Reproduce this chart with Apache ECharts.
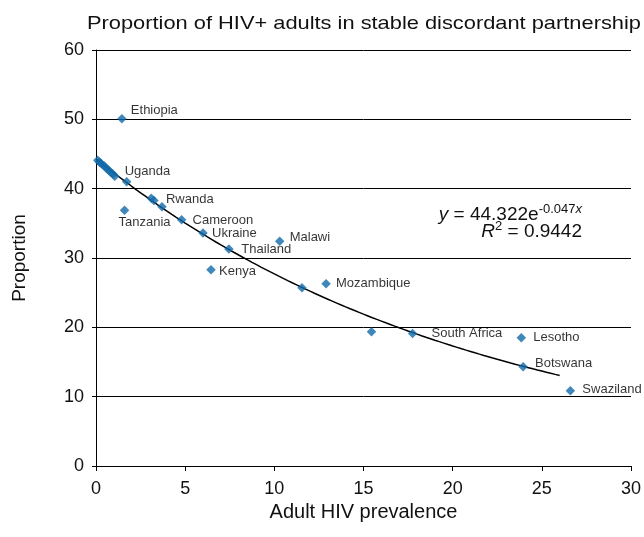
<!DOCTYPE html>
<html>
<head>
<meta charset="utf-8">
<script src="https://cdn.jsdelivr.net/npm/echarts@6/dist/echarts.min.js"></script>
<style>
html,body{margin:0;padding:0;background:#fff;}
#chart{width:644px;height:537px;}
</style>
</head>
<body>
<div id="chart"></div>
<script>
// Country names ('' = unlabeled point)
var countries = ['', '', '', '', '', '', '', '', '', 'Uganda', 'Ethiopia', 'Tanzania', '', 'Rwanda', '', 'Cameroon', 'Ukraine', 'Thailand', 'Malawi', 'Kenya', '', 'Mozambique', '', 'South Africa', 'Lesotho', 'Botswana', 'Swaziland'];
// Adult HIV prevalence (%)
var prevalence = [0.1, 0.2, 0.3, 0.45, 0.55, 0.7, 0.8, 0.95, 1.05, 1.72, 1.45, 1.6, 3.1, 3.25, 3.7, 4.8, 6.0, 7.45, 10.3, 6.45, 11.55, 12.9, 15.45, 17.75, 23.85, 23.95, 26.6];
// Proportion of HIV+ adults in stable discordant partnership (%)
var proportion = [44.1, 43.8, 43.6, 43.3, 43.0, 42.7, 42.4, 42.1, 41.8, 41.0, 50.1, 36.9, 38.6, 38.3, 37.4, 35.5, 33.6, 31.3, 32.4, 28.3, 25.7, 26.3, 19.35, 19.1, 18.5, 14.3, 10.85];
// Fitted exponential trend y = a * e^(b x), shown on the chart
var trendA = 44.322;
var trendB = -0.047;
var trendR2 = 0.9442;
var trendXMax = 26;
var xTicks = [0, 5, 10, 15, 20, 25, 30];
var yTicks = [0, 10, 20, 30, 40, 50, 60];
var titleText = 'Proportion of HIV+ adults in stable discordant partnership';

// label offsets (style only): [dx from point centre to text left, dy]
var labelOffsets = {
  'Uganda': [-2, -10], 'Ethiopia': [9, -8], 'Tanzania': [-6, 12.5], 'Rwanda': [12, -1.5],
  'Cameroon': [11, 0.5], 'Ukraine': [9, 0.5], 'Thailand': [12.5, 0], 'Malawi': [10, -3.5],
  'Kenya': [8, 1.3], 'Mozambique': [10, 0], 'South Africa': [19, -0.5], 'Lesotho': [12, 0],
  'Botswana': [12, -3.5], 'Swaziland': [12, -1.4]
};

var FONT = '"Liberation Sans", Arial, Helvetica, sans-serif';
var symSize = 9.5;
var scatterData = prevalence.map(function (x, i) {
  var name = countries[i];
  var item = { value: [x, proportion[i]], name: name };
  if (name) {
    var o = labelOffsets[name] || [10, 0];
    item.label = {
      show: true, position: [symSize / 2 + o[0], symSize / 2 + o[1]],
      align: 'left', verticalAlign: 'middle'
    };
  }
  return item;
});

var trendData = [];
for (var i = 0; i <= trendXMax * 4; i++) {
  var tx = i / 4;
  trendData.push([tx, trendA * Math.exp(trendB * tx)]);
}

var chart = echarts.init(document.getElementById('chart'), null, { renderer: 'canvas' });
chart.setOption({
  animation: false,
  backgroundColor: '#fff',
  textStyle: { fontFamily: FONT },
  grid: { left: 96, right: 12, top: 50, bottom: 71, containLabel: false },
  xAxis: {
    type: 'value', min: xTicks[0], max: xTicks[xTicks.length - 1], interval: 5,
    name: 'Adult HIV prevalence', nameLocation: 'middle', nameGap: 35,
    nameTextStyle: { fontFamily: FONT, fontSize: 20, color: '#111' },
    axisLine: { show: true, lineStyle: { color: '#000', width: 1 } },
    axisTick: { show: true, length: 5, lineStyle: { color: '#000' } },
    axisLabel: { fontFamily: FONT, fontSize: 18, color: '#111', margin: 14 },
    splitLine: { show: false }
  },
  yAxis: {
    type: 'value', min: yTicks[0], max: yTicks[yTicks.length - 1], interval: 10,
    name: 'Proportion', nameLocation: 'middle', nameGap: 67, nameRotate: 90,
    nameTextStyle: { fontFamily: FONT, fontSize: 19, color: '#111' },
    axisLine: { show: true, lineStyle: { color: '#000', width: 1 } },
    axisTick: { show: true, length: 4, lineStyle: { color: '#000' } },
    axisLabel: { fontFamily: FONT, fontSize: 18, color: '#111', margin: 12 },
    splitLine: { show: true, lineStyle: { color: '#000', width: 1 } }
  },
  series: [
    {
      type: 'line', data: trendData, showSymbol: false, symbol: 'none', smooth: false,
      lineStyle: { color: '#000', width: 1.5 }, z: 2, silent: true
    },
    {
      type: 'scatter', data: scatterData, symbol: 'diamond', symbolSize: symSize,
      itemStyle: { color: '#116aa9' }, z: 3,
      label: { show: false, formatter: '{b}', fontFamily: FONT, fontSize: 13, color: '#000' }
    }
  ],
  graphic: [
    {
      type: 'text', x: 87, y: 23.5, scaleX: 1.18, z: 10,
      style: {
        text: titleText, font: '18.5px ' + FONT, fill: '#111',
        textAlign: 'left', textVerticalAlign: 'middle'
      }
    },
    {
      type: 'text', x: 582, y: 215, z: 10,
      style: {
        text: '{i|y} = ' + trendA + 'e{sup|' + trendB + '}{supi|x}',
        font: '19px ' + FONT, fill: '#111',
        textAlign: 'right', textVerticalAlign: 'middle',
        rich: {
          i: { fontFamily: FONT, fontSize: 19, fontStyle: 'italic', fill: '#111' },
          sup: { fontFamily: FONT, fontSize: 13, fill: '#111', padding: [0, 0, 11, 0] },
          supi: { fontFamily: FONT, fontSize: 13, fontStyle: 'italic', fill: '#111', padding: [0, 0, 11, 0] }
        }
      }
    },
    {
      type: 'text', x: 582, y: 231.5, z: 10,
      style: {
        text: '{i|R}{sup|2} = ' + trendR2,
        font: '19px ' + FONT, fill: '#111',
        textAlign: 'right', textVerticalAlign: 'middle',
        rich: {
          i: { fontFamily: FONT, fontSize: 19, fontStyle: 'italic', fill: '#111' },
          sup: { fontFamily: FONT, fontSize: 13, fill: '#111', padding: [0, 0, 11, 0] }
        }
      }
    }
  ]
});
</script>
</body>
</html>
